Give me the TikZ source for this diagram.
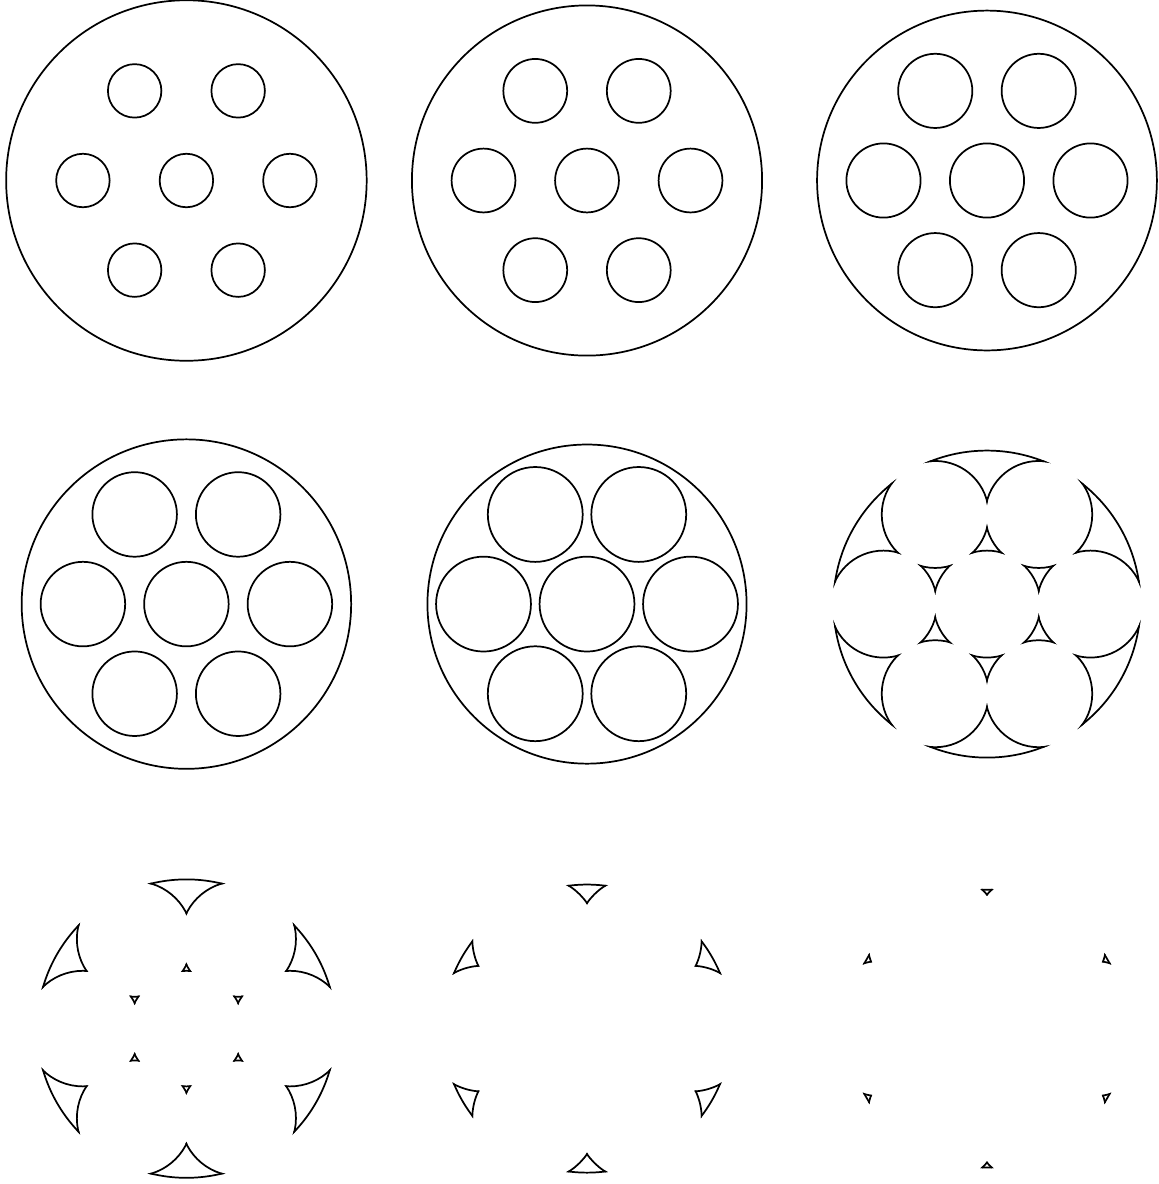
\documentclass[tikz,border=0pt]{standalone}
\usepackage{tikz}
\usetikzlibrary{calc}

\begin{document}
\begin{tikzpicture}[x=1cm,y=1cm,
  outline/.style={draw=black,line width=1.9pt}]
  \useasboundingbox (0,0) rectangle (22.377,-22.879);
  \foreach \cx/\cy/\t in {3.602/-3.488/0, 11.343/-3.488/0.1, 19.072/-3.488/0.2,
                          3.602/-11.673/0.3, 11.343/-11.673/0.4, 19.072/-11.673/0.517,
                          3.602/-19.876/0.6, 11.343/-19.876/0.7, 19.072/-19.876/0.8}{
    \begin{scope}[shift={(\cx,\cy)}]
      \pgfmathsetmacro{\R}{3.5-\t}
      \pgfmathsetmacro{\rh}{0.5+\t}
      \clip (0,0) circle (\R);
      \clip (-4,-4) -- (-4,4) -- (4,4) -- (4,-4) -- cycle (0,0) circle (\rh);
      \foreach \a in {0,60,...,300}
        \clip (-4,-4) -- (-4,4) -- (4,4) -- (4,-4) -- cycle (\a:2) circle (\rh);
      \draw[outline] (0,0) circle (\R);
      \draw[outline] (0,0) circle (\rh);
      \foreach \a in {0,60,...,300}
        \draw[outline] (\a:2) circle (\rh);
    \end{scope}
  }
\end{tikzpicture}
\end{document}
